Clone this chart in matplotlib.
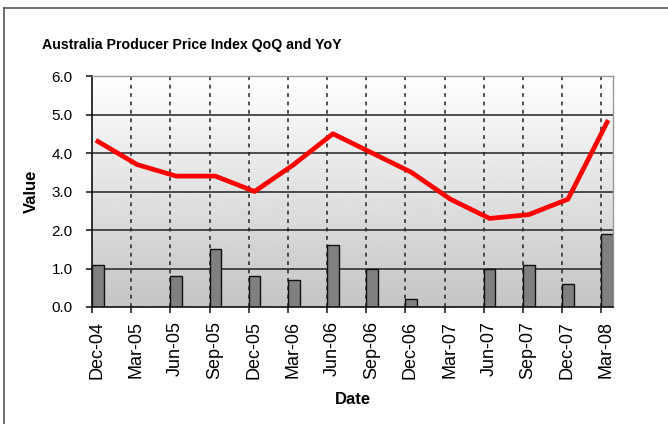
import numpy as np
import matplotlib.pyplot as plt
import matplotlib.transforms as mtransforms
from matplotlib.lines import Line2D

# datos
fechas = ["Dec-04", "Mar-05", "Jun-05", "Sep-05", "Dec-05", "Mar-06", "Jun-06",
          "Sep-06", "Dec-06", "Mar-07", "Jun-07", "Sep-07", "Dec-07", "Mar-08"]
qoq = [1.1, 0.0, 0.8, 1.5, 0.8, 0.7, 1.6, 1.0, 0.2, 0.0, 1.0, 1.1, 0.6, 1.9]
yoy = [4.3, 3.7, 3.4, 3.4, 3.0, 3.7, 4.5, 4.0, 3.5, 2.8, 2.3, 2.4, 2.8, 4.8]

ancho = 0.3
x = np.arange(len(fechas))

fig = plt.figure(figsize=(6.68, 4.24), dpi=100)
plt.rcParams['font.family'] = ['Liberation Sans', 'DejaVu Sans']

# marco exterior (solo arriba e izquierda se ven)
fig.add_artist(Line2D([4/668, 4/668], [0, 1 - 8/424], color="#555555", lw=1.2))
fig.add_artist(Line2D([4/668, 1], [1 - 8/424, 1 - 8/424], color="#555555", lw=1.2))

ax = fig.add_axes([92/668, 1 - 307/424, (613 - 92)/668, (307 - 76)/424])

# fondo degradado blanco -> gris
grad = np.linspace(0.77, 1.0, 256).reshape(-1, 1)
ax.imshow(grad, cmap="gray", vmin=0, vmax=1, aspect="auto",
          extent=[0, len(fechas) - 1 + ancho, 0, 6], origin="lower", zorder=0)

for y in range(1, 6):
    ax.axhline(y, color="#222222", lw=1.1, zorder=1)
for xi in x[1:]:
    ax.axvline(xi, color="#222222", lw=1.1, ls=(0, (2.5, 3)), zorder=1)

ax.bar(x, qoq, width=ancho, align="edge", color="#808080",
       edgecolor="#111111", linewidth=1.0, zorder=2)
ax.plot(x + ancho / 2, yoy, color="#ff0000", lw=3.4, zorder=3,
        solid_joinstyle="round")

ax.set_xlim(0, len(fechas) - 1 + ancho)
ax.set_ylim(0, 6)
ax.set_yticks(np.arange(0, 6.1, 1.0))
ax.set_yticklabels([f"{v:.1f}" for v in np.arange(0, 6.1, 1.0)], fontsize=11)
ax.set_xticks(x)
ax.set_xticklabels(fechas, rotation=90, fontsize=13)
ax.tick_params(axis="both", direction="out", length=4, width=1.1, color="#111111")
ax.tick_params(axis="y", pad=10)
ax.tick_params(axis="x", pad=6)

# las etiquetas del eje x quedan un poco a la derecha de la marca
desplazar = mtransforms.ScaledTranslation(5/100, 0, fig.dpi_scale_trans)
for etiqueta in ax.get_xticklabels():
    etiqueta.set_transform(etiqueta.get_transform() + desplazar)

for lado in ["left", "bottom"]:
    ax.spines[lado].set_color("#111111")
    ax.spines[lado].set_linewidth(1.2)
for lado in ["top", "right"]:
    ax.spines[lado].set_color("#999999")
    ax.spines[lado].set_linewidth(1.0)

ax.set_xlabel("Date", fontsize=12, fontweight="bold", labelpad=9)
ax.set_ylabel("Value", fontsize=12, fontweight="bold", labelpad=9)

fig.text(42/668, 1 - 45/424, "Australia Producer Price Index QoQ and YoY",
         fontsize=10.2, fontweight="bold", va="center", ha="left")

fig.savefig("out.png", dpi=100)
